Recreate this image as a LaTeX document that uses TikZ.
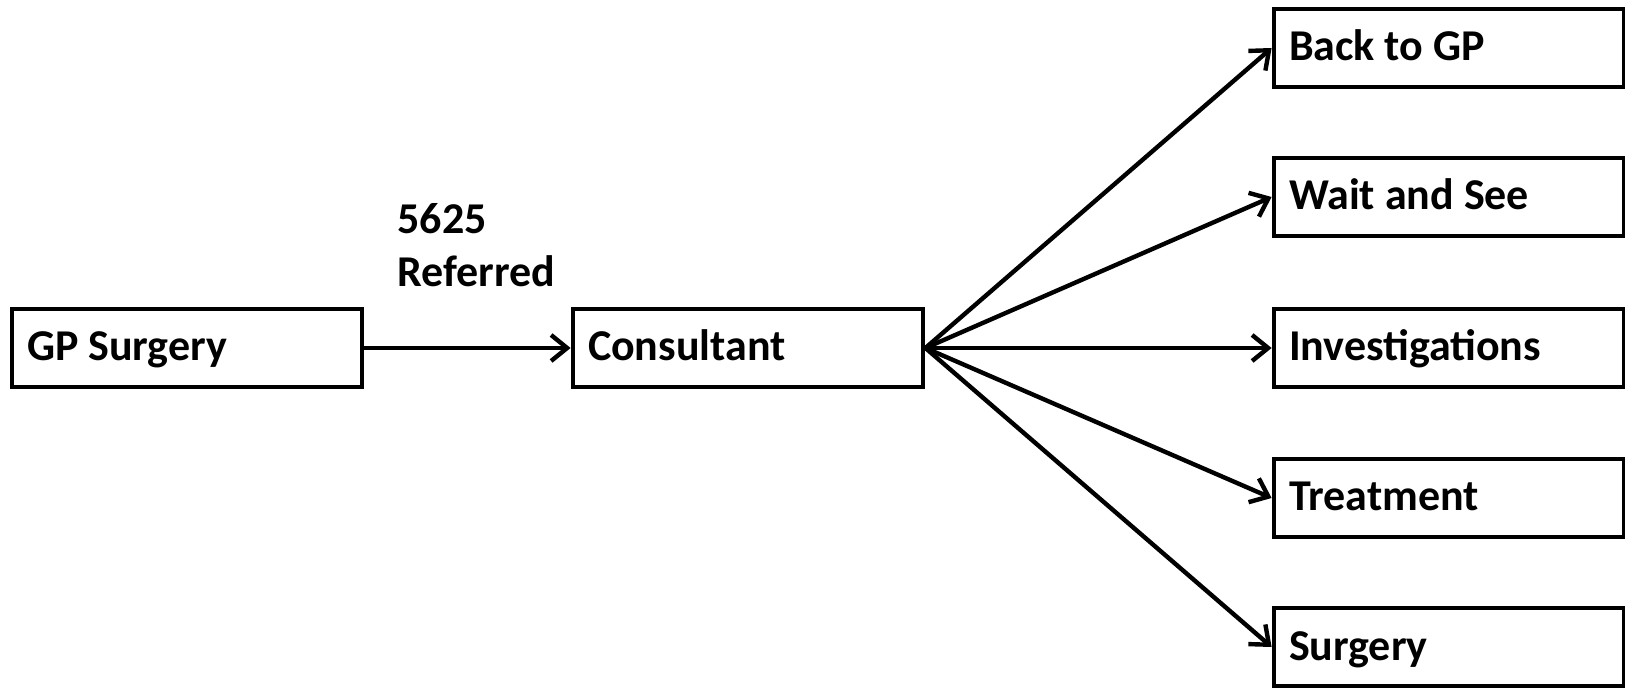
\documentclass[tikz,border=0pt]{standalone}
\usepackage{fontspec}
\setmainfont{Carlito}
\usetikzlibrary{arrows.meta}
\begin{document}
\begin{tikzpicture}[x=0.5pt,y=-0.5pt,
  box/.style={draw,line width=2.4pt,minimum width=175pt,minimum height=39pt,
    text width=160pt,align=flush left,inner xsep=7.5pt,inner ysep=0pt,
    text height=13pt,text depth=0pt,
    font=\bfseries\fontsize{22}{26}\selectfont},
  link/.style={line width=2.2pt,-{Straight Barb[length=8pt,width=13pt,line width=2.2pt]}}]
\useasboundingbox (0,0) rectangle (1625,688);
\node[box] (gp) at (187,348) {GP Surgery};
\node[box] (cons) at (748,348) {Consultant};
\node[box] (back) at (1449,48) {Back to GP};
\node[box] (wait) at (1449,197) {Wait and See};
\node[box] (inv) at (1449,348) {Investigations};
\node[box] (treat) at (1449,498) {Treatment};
\node[box] (surg) at (1449,647) {Surgery};
\node[anchor=west,align=flush left,inner sep=0pt,font=\bfseries\fontsize{22}{26.5}\selectfont] (lbl) at (397,245) {5625\\Referred};
\draw[link] (gp) -- (cons);
\foreach \t in {back,wait,inv,treat,surg}
  \draw[link] (cons.east) -- (\t.west);
\end{tikzpicture}
\end{document}
